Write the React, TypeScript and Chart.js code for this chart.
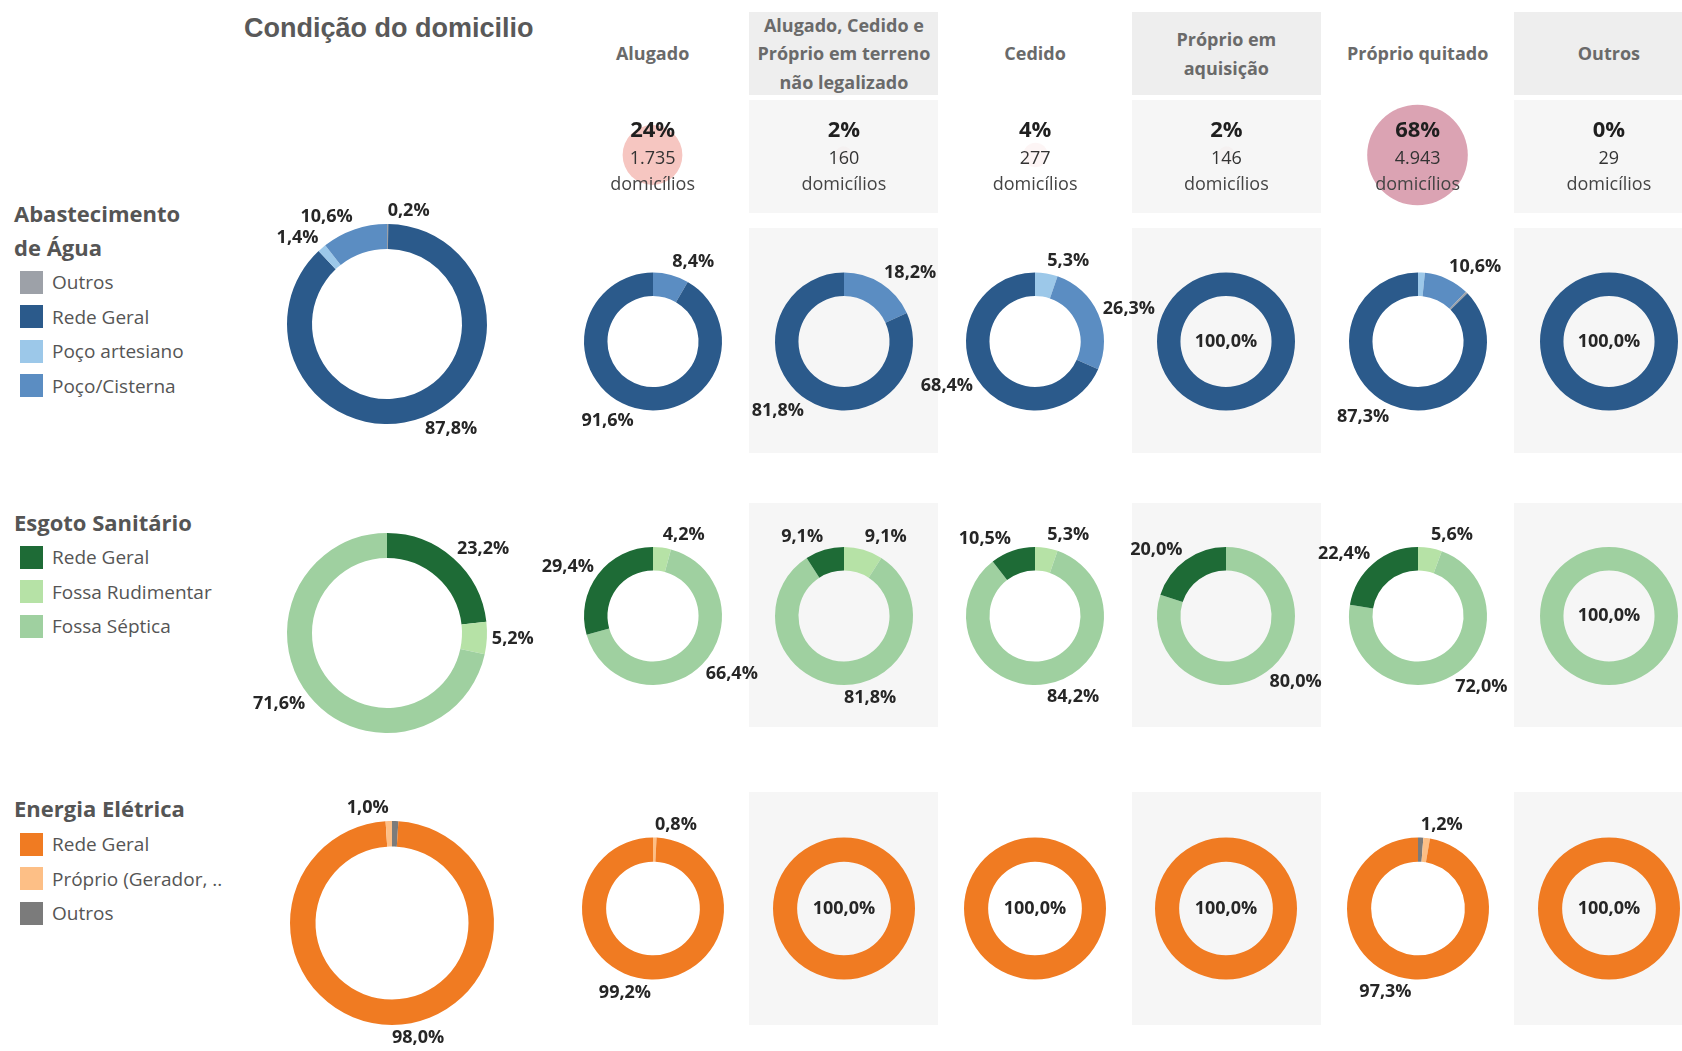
import React, { useEffect, useRef } from 'react';
import { Chart, registerables } from 'chart.js';
Chart.register(...registerables);

// ---------- DATA ----------
const conditionHeaders = [
  ['Alugado'],
  ['Alugado, Cedido e', 'Próprio em terreno', 'não legalizado'],
  ['Cedido'],
  ['Próprio em', 'aquisição'],
  ['Próprio quitado'],
  ['Outros'],
];
const conditionShare = [24, 2, 4, 2, 68, 0];
const conditionCount = ['1.735', '160', '277', '146', '4.943', '29'];

const waterCategories = ['Outros', 'Rede Geral', 'Poço artesiano', 'Poço/Cisterna'];
const waterColors = ['#9da1a8', '#2b5a8b', '#9cc8e9', '#5b8dc2'];
const waterTotal = [0.2, 87.8, 1.4, 10.6];
const waterByCondition = [
  [0, 91.6, 0, 8.4],
  [0, 81.8, 0, 18.2],
  [0, 68.4, 5.3, 26.3],
  [0, 100, 0, 0],
  [0.5, 87.3, 1.6, 10.6],
  [0, 100, 0, 0],
];
const waterTotalOrder = [0, 1, 2, 3];
const waterColumnOrder = [2, 3, 0, 1];
const waterTotalHidden: string[] = [];
const waterColumnHidden = [[], [], [], [], ['Outros', 'Poço artesiano'], []];

const sewageCategories = ['Rede Geral', 'Fossa Rudimentar', 'Fossa Séptica'];
const sewageColors = ['#1e6b36', '#b6e2a6', '#9fd0a0'];
const sewageTotal = [23.2, 5.2, 71.6];
const sewageByCondition = [
  [29.4, 4.2, 66.4],
  [9.1, 9.1, 81.8],
  [10.5, 5.3, 84.2],
  [20.0, 0, 80.0],
  [22.4, 5.6, 72.0],
  [0, 0, 100],
];
const sewageTotalOrder = [0, 1, 2];
const sewageColumnOrder = [1, 2, 0];
const sewageTotalHidden: string[] = [];
const sewageColumnHidden = [[], [], [], [], [], []];

const energyCategories = ['Rede Geral', 'Próprio (Gerador, ..', 'Outros'];
const energyColors = ['#f07b22', '#fdbf86', '#7b7b7b'];
const energyTotal = [98.0, 1.0, 1.0];
const energyByCondition = [
  [99.2, 0.8, 0],
  [100, 0, 0],
  [100, 0, 0],
  [100, 0, 0],
  [97.3, 1.5, 1.2],
  [100, 0, 0],
];
const energyTotalOrder = [2, 0, 1];
const energyColumnOrder = [2, 1, 0];
const energyTotalHidden = ['Outros'];
const energyColumnHidden = [[], [], [], [], ['Próprio (Gerador, ..'], []];

const shareColorStops: [number, number[]][] = [
  [0, [246, 198, 193, 0]],
  [24, [246, 198, 193, 1]],
  [68, [219, 163, 179, 1]],
];

// ---------- LAYOUT ----------
const COL_LEFT = 557;
const COL_W = 191.25;
const PANEL_W = 189;
const HEADER = { top: 12, h: 83 };
const STATS = { top: 100, h: 113 };
const ROWS = [
  { top: 228, h: 225, cy: 341, r: 69, bigCx: 387, bigCy: 324, bigR: 100 },
  { top: 503, h: 224, cy: 616, r: 69, bigCx: 387, bigCy: 633, bigR: 100 },
  { top: 792, h: 233, cy: 908, r: 71, bigCx: 392, bigCy: 923, bigR: 102 },
];
const FONT = '"Open Sans", "DejaVu Sans", sans-serif';

const fmtPct = (v: number) => v.toFixed(1).replace('.', ',') + '%';

function makeArcLabels(hidden: string[]) {
  return {
    id: 'arcLabels',
    afterDatasetsDraw(chart: any) {
      const ctx = chart.ctx;
      const meta = chart.getDatasetMeta(0);
      const ds = chart.data.datasets[0];
      const names = chart.data.labels as string[];
      ctx.save();
      ctx.font = `bold 18px ${FONT}`;
      ctx.fillStyle = '#262626';
      ctx.textAlign = 'center';
      ctx.textBaseline = 'middle';
      meta.data.forEach((arc: any, i: number) => {
        const v = ds.data[i] as number;
        if (!v || hidden.includes(names[i])) return;
        const p = arc.getProps(['x', 'y', 'startAngle', 'endAngle', 'outerRadius'], true);
        const text = fmtPct(v);
        if (v >= 99.95) {
          ctx.fillText(text, p.x, p.y);
          return;
        }
        const mid = (p.startAngle + p.endAngle) / 2;
        const c = Math.cos(mid);
        const s = Math.sin(mid);
        const w = ctx.measureText(text).width;
        const h = 16;
        const gap = 5;
        const ax = p.x + c * (p.outerRadius + gap);
        const ay = p.y + s * (p.outerRadius + gap);
        const side = c > -0.02 ? 1 : -1;
        const lx = ax + side * (w / 2);
        const ly = ay + (s * h) / 2;
        ctx.fillText(text, lx, ly);
      });
      ctx.restore();
    },
  };
}

type DonutProps = {
  cx: number; cy: number; r: number; cutout: number; boxW: number; boxH: number;
  categories: string[]; values: number[]; colors: string[]; order: number[]; hidden: string[];
};

function Donut(props: DonutProps) {
  const ref = useRef<HTMLCanvasElement>(null);
  const { cx, cy, r, cutout, boxW, boxH, categories, values, colors, order, hidden } = props;
  useEffect(() => {
    const px = (boxW - 2 * r) / 2;
    const py = (boxH - 2 * r) / 2;
    const chart = new Chart(ref.current!, {
      type: 'doughnut',
      data: {
        labels: order.map((k) => categories[k]),
        datasets: [
          {
            data: order.map((k) => values[k]),
            backgroundColor: order.map((k) => colors[k]),
            borderWidth: 0,
          },
        ],
      },
      options: {
        responsive: false,
        animation: false,
        events: [],
        cutout: cutout + '%',
        layout: { padding: { left: px, right: px, top: py, bottom: py } },
        plugins: { legend: { display: false }, tooltip: { enabled: false } },
      } as any,
      plugins: [makeArcLabels(hidden) as any],
    });
    return () => chart.destroy();
  }, []);
  return (
    <canvas
      ref={ref}
      width={boxW}
      height={boxH}
      style={{ position: 'absolute', left: cx - boxW / 2, top: cy - boxH / 2, width: boxW, height: boxH }}
    />
  );
}

function shareColor(v: number) {
  let a = shareColorStops[0];
  let b = shareColorStops[shareColorStops.length - 1];
  for (let i = 0; i < shareColorStops.length - 1; i++) {
    if (v >= shareColorStops[i][0] && v <= shareColorStops[i + 1][0]) {
      a = shareColorStops[i];
      b = shareColorStops[i + 1];
    }
  }
  const t = b[0] === a[0] ? 0 : (v - a[0]) / (b[0] - a[0]);
  const m = a[1].map((x, i) => x + (b[1][i] - x) * t);
  return `rgba(${Math.round(m[0])},${Math.round(m[1])},${Math.round(m[2])},${m[3].toFixed(3)})`;
}

function ShareBubble({ left, top, w, h, share }: { left: number; top: number; w: number; h: number; share: number }) {
  const ref = useRef<HTMLCanvasElement>(null);
  useEffect(() => {
    const chart = new Chart(ref.current!, {
      type: 'bubble',
      data: {
        datasets: [
          {
            data: [{ x: 0, y: 0, r: 6.1 * Math.sqrt(share) }],
            backgroundColor: shareColor(share),
            borderWidth: 0,
            clip: false,
          },
        ],
      },
      options: {
        responsive: false,
        animation: false,
        events: [],
        layout: { padding: 0, autoPadding: false },
        scales: {
          x: { display: false, min: -1, max: 1 },
          y: { display: false, min: -1, max: 1 },
        },
        plugins: { legend: { display: false }, tooltip: { enabled: false } },
      } as any,
    });
    return () => chart.destroy();
  }, []);
  return (
    <canvas ref={ref} width={w} height={h} style={{ position: 'absolute', left, top, width: w, height: h }} />
  );
}

function Legend({ title, top, itemsTop, categories, colors }: { title: string[]; top: number; itemsTop: number; categories: string[]; colors: string[] }) {
  return (
    <>
      {title.map((t, i) => (
        <div
          key={'t' + i}
          style={{
            position: 'absolute', left: 14, top: top + i * 34 - 17, height: 34, lineHeight: '34px',
            fontFamily: FONT, fontWeight: 700, fontSize: 22, color: '#555', whiteSpace: 'nowrap',
          }}
        >
          {t}
        </div>
      ))}
      {categories.map((c, i) => (
        <React.Fragment key={c}>
          <div style={{ position: 'absolute', left: 20, top: itemsTop + i * 34.6 - 11.5, width: 23, height: 23, background: colors[i] }} />
          <div
            style={{
              position: 'absolute', left: 52, top: itemsTop + i * 34.6 - 15, height: 30, lineHeight: '30px',
              fontFamily: FONT, fontSize: 19, color: '#555', whiteSpace: 'nowrap',
            }}
          >
            {c}
          </div>
        </React.Fragment>
      ))}
    </>
  );
}

export default function App() {
  const colLeft = (i: number) => COL_LEFT + COL_W * i;
  const colCx = (i: number) => colLeft(i) + COL_W / 2;
  const greyCols = [1, 3, 5];

  const groups = [
    { cats: waterCategories, colors: waterColors, total: waterTotal, byCond: waterByCondition, tOrder: waterTotalOrder, cOrder: waterColumnOrder, tHidden: waterTotalHidden, cHidden: waterColumnHidden },
    { cats: sewageCategories, colors: sewageColors, total: sewageTotal, byCond: sewageByCondition, tOrder: sewageTotalOrder, cOrder: sewageColumnOrder, tHidden: sewageTotalHidden, cHidden: sewageColumnHidden },
    { cats: energyCategories, colors: energyColors, total: energyTotal, byCond: energyByCondition, tOrder: energyTotalOrder, cOrder: energyColumnOrder, tHidden: energyTotalHidden, cHidden: energyColumnHidden },
  ];

  return (
    <div style={{ position: 'absolute', left: 0, top: 0, width: 1682, height: 1051, background: '#fff', overflow: 'hidden', fontFamily: FONT }}>
      {/* panels */}
      {greyCols.map((i) => (
        <React.Fragment key={'p' + i}>
          <div style={{ position: 'absolute', left: colLeft(i) + 1, top: HEADER.top, width: PANEL_W, height: HEADER.h, background: '#eeeeee' }} />
          <div style={{ position: 'absolute', left: colLeft(i) + 1, top: STATS.top, width: PANEL_W, height: STATS.h, background: '#f6f6f6' }} />
          {ROWS.map((r, k) => (
            <div key={k} style={{ position: 'absolute', left: colLeft(i) + 1, top: r.top, width: PANEL_W, height: r.h, background: '#f6f6f6' }} />
          ))}
        </React.Fragment>
      ))}

      {/* title */}
      <div style={{ position: 'absolute', left: 244, top: 10, height: 36, lineHeight: '36px', fontFamily: '"Liberation Sans", Arial, sans-serif', fontWeight: 700, fontSize: 27, color: '#595959', whiteSpace: 'nowrap' }}>
        Condição do domicilio
      </div>

      {/* column headers */}
      {conditionHeaders.map((lines, i) => (
        <div key={'h' + i} style={{ position: 'absolute', left: colLeft(i), top: HEADER.top, width: COL_W, height: HEADER.h, display: 'flex', flexDirection: 'column', justifyContent: 'center', alignItems: 'center' }}>
          {lines.map((l, j) => (
            <div key={j} style={{ fontWeight: 700, fontSize: 18, lineHeight: '28.5px', color: '#6a6a6a', whiteSpace: 'nowrap' }}>{l}</div>
          ))}
        </div>
      ))}

      {/* stats */}
      {conditionShare.map((s, i) => (
        <React.Fragment key={'s' + i}>
          <ShareBubble left={colLeft(i) + 1} top={STATS.top} w={PANEL_W} h={110} share={s} />
          <div style={{ position: 'absolute', left: colLeft(i), width: COL_W, top: 128 - 15, height: 30, lineHeight: '30px', textAlign: 'center', fontWeight: 700, fontSize: 22, color: '#1f1f1f' }}>{s}%</div>
          <div style={{ position: 'absolute', left: colLeft(i), width: COL_W, top: 157 - 13, height: 26, lineHeight: '26px', textAlign: 'center', fontSize: 18, color: '#333' }}>{conditionCount[i]}</div>
          <div style={{ position: 'absolute', left: colLeft(i), width: COL_W, top: 183 - 13, height: 26, lineHeight: '26px', textAlign: 'center', fontSize: 18, color: '#444' }}>domicílios</div>
        </React.Fragment>
      ))}

      {/* legends */}
      <Legend title={['Abastecimento', 'de Água']} top={213} itemsTop={282} categories={waterCategories} colors={waterColors} />
      <Legend title={['Esgoto Sanitário']} top={522} itemsTop={557} categories={sewageCategories} colors={sewageColors} />
      <Legend title={['Energia Elétrica']} top={808} itemsTop={844} categories={energyCategories} colors={energyColors} />

      {/* donuts */}
      {groups.map((g, k) => {
        const row = ROWS[k];
        return (
          <React.Fragment key={'g' + k}>
            <Donut cx={row.bigCx} cy={row.bigCy} r={row.bigR} cutout={75} boxW={380} boxH={320}
              categories={g.cats} values={g.total} colors={g.colors} order={g.tOrder} hidden={g.tHidden} />
            {g.byCond.map((vals, i) => (
              <Donut key={i} cx={colCx(i)} cy={row.cy} r={row.r} cutout={66} boxW={290} boxH={row.h}
                categories={g.cats} values={vals} colors={g.colors} order={g.cOrder} hidden={g.cHidden[i]} />
            ))}
          </React.Fragment>
        );
      })}
    </div>
  );
}
